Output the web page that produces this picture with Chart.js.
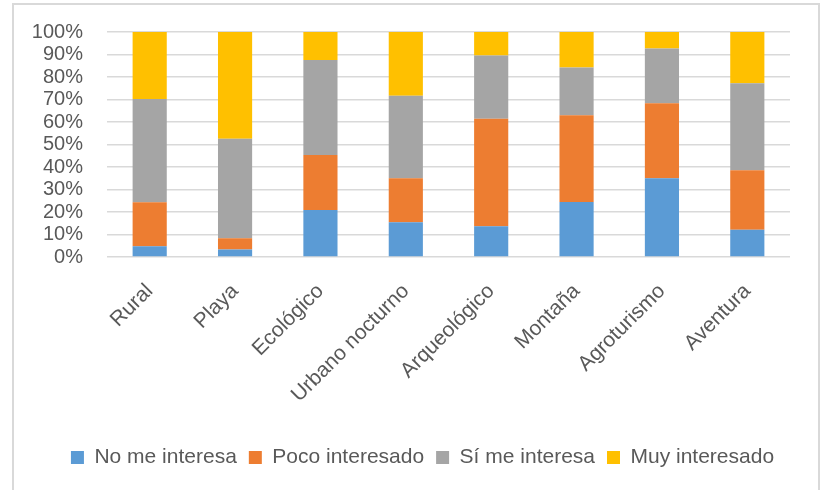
<!DOCTYPE html>
<html>
<head>
<meta charset="utf-8">
<script src="https://cdn.jsdelivr.net/npm/chart.js@4"></script>
<style>
    html, body { margin: 0; padding: 0; background: #fff; }
    body { width: 821px; height: 490px; position: relative; overflow: hidden; }
    .frame { position: absolute; left: 12px; top: 3px; width: 804px; height: 500px; border: 2px solid #d9d9d9; }
    .chart-box { position: absolute; left: 0; top: 0; width: 821px; height: 490px; }
</style>
</head>
<body>
<div class="frame"></div>
<div class="chart-box"><canvas id="interesChart"></canvas></div>
<script>
// Tipos de turismo y nivel de interés (% de respuestas)
const categorias = ['Rural', 'Playa', 'Ecológico', 'Urbano nocturno', 'Arqueológico', 'Montaña', 'Agroturismo', 'Aventura'];
const noMeInteresa   = [4.8, 3.3, 20.9, 15.5, 13.7, 24.4, 35.0, 12.1];
const pocoInteresado = [19.5, 5.0, 24.4, 19.5, 47.7, 38.6, 33.3, 26.5];
const siMeInteresa   = [45.9, 44.3, 42.3, 36.7, 28.2, 21.2, 24.4, 38.6];
const muyInteresado  = [29.8, 47.4, 12.4, 28.3, 10.4, 15.8, 7.3, 22.8];
const ticksY = [0, 10, 20, 30, 40, 50, 60, 70, 80, 90, 100];

const FONT = "'Liberation Sans', Arial, sans-serif";
const TEXT_COLOR = '#595959';

const ctx = document.getElementById('interesChart').getContext('2d');
new Chart(ctx, {
    type: 'bar',
    data: {
        labels: categorias,
        datasets: [
            { label: 'No me interesa', data: noMeInteresa, backgroundColor: '#5B9BD5' },
            { label: 'Poco interesado', data: pocoInteresado, backgroundColor: '#ED7D31' },
            { label: 'Sí me interesa', data: siMeInteresa, backgroundColor: '#A5A5A5' },
            { label: 'Muy interesado', data: muyInteresado, backgroundColor: '#FFC000' }
        ]
    },
    options: {
        responsive: true,
        maintainAspectRatio: false,
        animation: false,
        categoryPercentage: 0.8,
        barPercentage: 0.5,
        layout: { padding: { left: 24, right: 0, top: 32, bottom: 12 } },
        plugins: {
            tooltip: { enabled: false },
            legend: {
                position: 'bottom',
                labels: {
                    color: TEXT_COLOR,
                    font: { family: FONT, size: 21 },
                    boxWidth: 13,
                    boxHeight: 13,
                    padding: 12
                }
            }
        },
        scales: {
            x: {
                stacked: true,
                grid: { display: false },
                border: { display: false },
                ticks: {
                    color: TEXT_COLOR,
                    font: { family: FONT, size: 21 },
                    minRotation: 45,
                    maxRotation: 45,
                    padding: 14
                },
                afterFit: (scale) => { scale.height = 178; }
            },
            y: {
                stacked: true,
                min: 0,
                max: 100,
                afterBuildTicks: (scale) => { scale.ticks = ticksY.map(v => ({ value: v })); },
                grid: { color: '#d9d9d9', lineWidth: 1.5, drawTicks: false },
                border: { display: false },
                ticks: {
                    color: TEXT_COLOR,
                    font: { family: FONT, size: 20 },
                    padding: 24,
                    autoSkip: false,
                    callback: (value) => value + '%'
                },
                afterFit: (scale) => {
                    scale.width = 83;
                    scale.paddingTop = 0;
                    scale.paddingBottom = 0;
                }
            },
            // eje vacío a la derecha: deja el margen sin descentrar la leyenda
            margenDer: {
                type: 'linear',
                position: 'right',
                grid: { display: false },
                border: { display: false },
                ticks: { display: false },
                afterFit: (scale) => {
                    scale.width = 31;
                    scale.paddingTop = 0;
                    scale.paddingBottom = 0;
                }
            }
        }
    }
});
</script>
</body>
</html>
